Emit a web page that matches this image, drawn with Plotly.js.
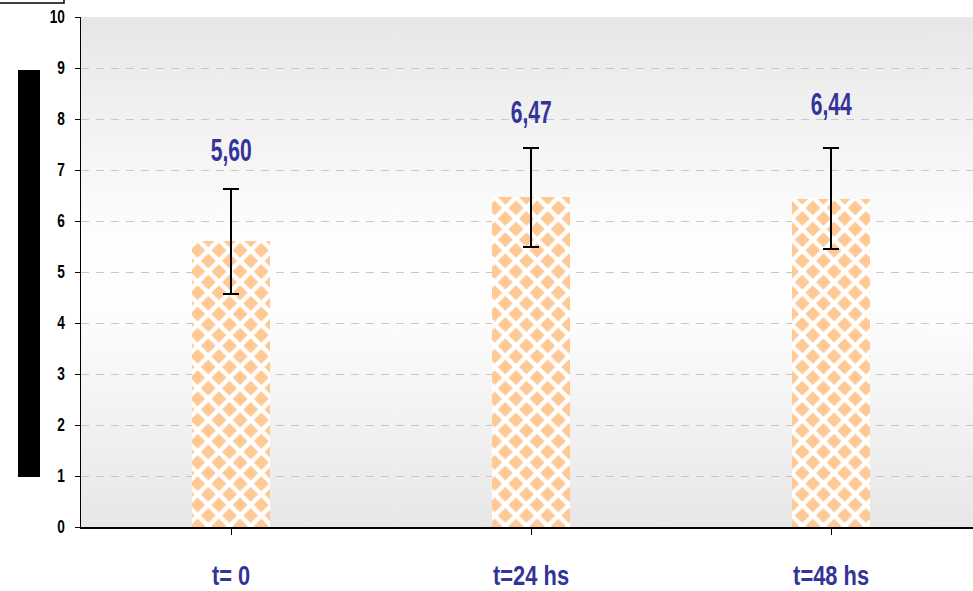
<!DOCTYPE html>
<html>
<head>
<meta charset="utf-8">
<script src="https://cdn.plot.ly/plotly-3.0.1.min.js"></script>
<style>html,body{margin:0;padding:0;background:#fff;}#chart{width:973px;height:591px;}</style>
</head>
<body>
<div id="chart"></div>
<script>
// ---- data ----
const categories = ['t= 0', 't=24 hs', 't=48 hs'];
const means = [5.60, 6.47, 6.44];
const errors = [1.03, 0.97, 0.99];
const yTickValues = [0, 1, 2, 3, 4, 5, 6, 7, 8, 9, 10];

// ---- styling / layout helpers ----
const W = 973, H = 591;
const M = {l: 81, r: 0, t: 17, b: 64};
const PW = W - M.l - M.r, PH = H - M.t - M.b;
const px = x => (x - M.l) / PW;
const py = y => (H - M.b - y) / PH;
const FONT = '"Liberation Sans", Arial, sans-serif';
const BLUE = '#333399';
const labelShift = [38, 35, 44];

// background gradient for the plot area
function gradientURL() {
  const c = document.createElement('canvas');
  c.width = 10; c.height = 510;
  const g = c.getContext('2d');
  const gr = g.createLinearGradient(0, 0, 0, 510);
  gr.addColorStop(0, '#e7e7e7');
  gr.addColorStop(0.42, '#fdfdfd');
  gr.addColorStop(0.58, '#fdfdfd');
  gr.addColorStop(1, '#e7e7e7');
  g.fillStyle = gr;
  g.fillRect(0, 0, 10, 510);
  return c.toDataURL('image/png');
}

const trace = {
  type: 'bar',
  x: categories.map((_, i) => i),
  y: means,
  width: 0.26,
  marker: {
    color: '#ffc995',
    line: {width: 0},
    pattern: {shape: 'x', fgcolor: '#ffffff', bgcolor: '#ffc995', size: 15, solidity: 0.5, fillmode: 'replace'}
  },
  error_y: {type: 'data', array: errors, visible: true, color: '#000000', thickness: 2, width: 8},
  hoverinfo: 'none'
};

const annotations = means.map((v, i) => ({
  x: i, y: v + errors[i], xref: 'x', yref: 'y',
  text: v.toFixed(2).replace('.', ','),
  showarrow: false, yshift: labelShift[i],
  font: {family: FONT, size: 31, color: BLUE, weight: 'bold'}
}));

const layout = {
  width: W, height: H,
  margin: M,
  paper_bgcolor: '#ffffff',
  plot_bgcolor: 'rgba(0,0,0,0)',
  showlegend: false,
  bargap: 0,
  xaxis: {
    range: [-0.5, 2.473],
    tickmode: 'array',
    tickvals: categories.map((_, i) => i),
    ticktext: categories,
    tickson: 'boundaries',
    ticks: 'outside', ticklen: 6, tickwidth: 1, tickcolor: '#000',
    showline: true, linecolor: '#000', linewidth: 1.5,
    showgrid: false, zeroline: false,
    ticklabelstandoff: 18,
    tickfont: {family: FONT, size: 27, color: BLUE, weight: 'bold'},
    fixedrange: true
  },
  yaxis: {
    range: [0, 10],
    tickmode: 'array',
    tickvals: yTickValues,
    ticktext: yTickValues.map(String),
    ticks: 'outside', ticklen: 5, tickwidth: 1, tickcolor: '#000',
    showline: true, linecolor: '#000', linewidth: 1.5,
    showgrid: true, gridcolor: '#c8c8c8', gridwidth: 1, griddash: '8px,7px',
    zeroline: false,
    ticklabelstandoff: 6,
    tickfont: {family: FONT, size: 18, color: '#000', weight: 'bold'},
    fixedrange: true
  },
  images: [{
    source: gradientURL(), xref: 'paper', yref: 'paper',
    x: 0, y: 1, sizex: 1, sizey: 1, sizing: 'stretch', layer: 'below'
  }],
  shapes: [
    {type: 'rect', xref: 'paper', yref: 'paper', x0: px(-5), x1: px(64), y0: py(-5), y1: py(3),
     line: {color: '#000', width: 1.5}, fillcolor: 'rgba(0,0,0,0)'},
    {type: 'rect', xref: 'paper', yref: 'paper', x0: px(18), x1: px(40), y0: py(477), y1: py(70),
     line: {width: 0}, fillcolor: '#000000'}
  ],
  annotations: annotations
};

// the reference uses a condensed face: squeeze glyphs horizontally
function condense(selector, factor) {
  document.querySelectorAll(selector).forEach(t => {
    const w = t.getComputedTextLength();
    if (w > 0) {
      t.setAttribute('textLength', (w * factor).toFixed(2));
      t.setAttribute('lengthAdjust', 'spacingAndGlyphs');
    }
  });
}

Plotly.newPlot('chart', [trace], layout, {displayModeBar: false, staticPlot: true}).then(() => {
  condense('#chart .xtick text', 0.81);
  condense('#chart .ytick text', 0.76);
  condense('#chart text.annotation-text', 0.68);
});
</script>
</body>
</html>
